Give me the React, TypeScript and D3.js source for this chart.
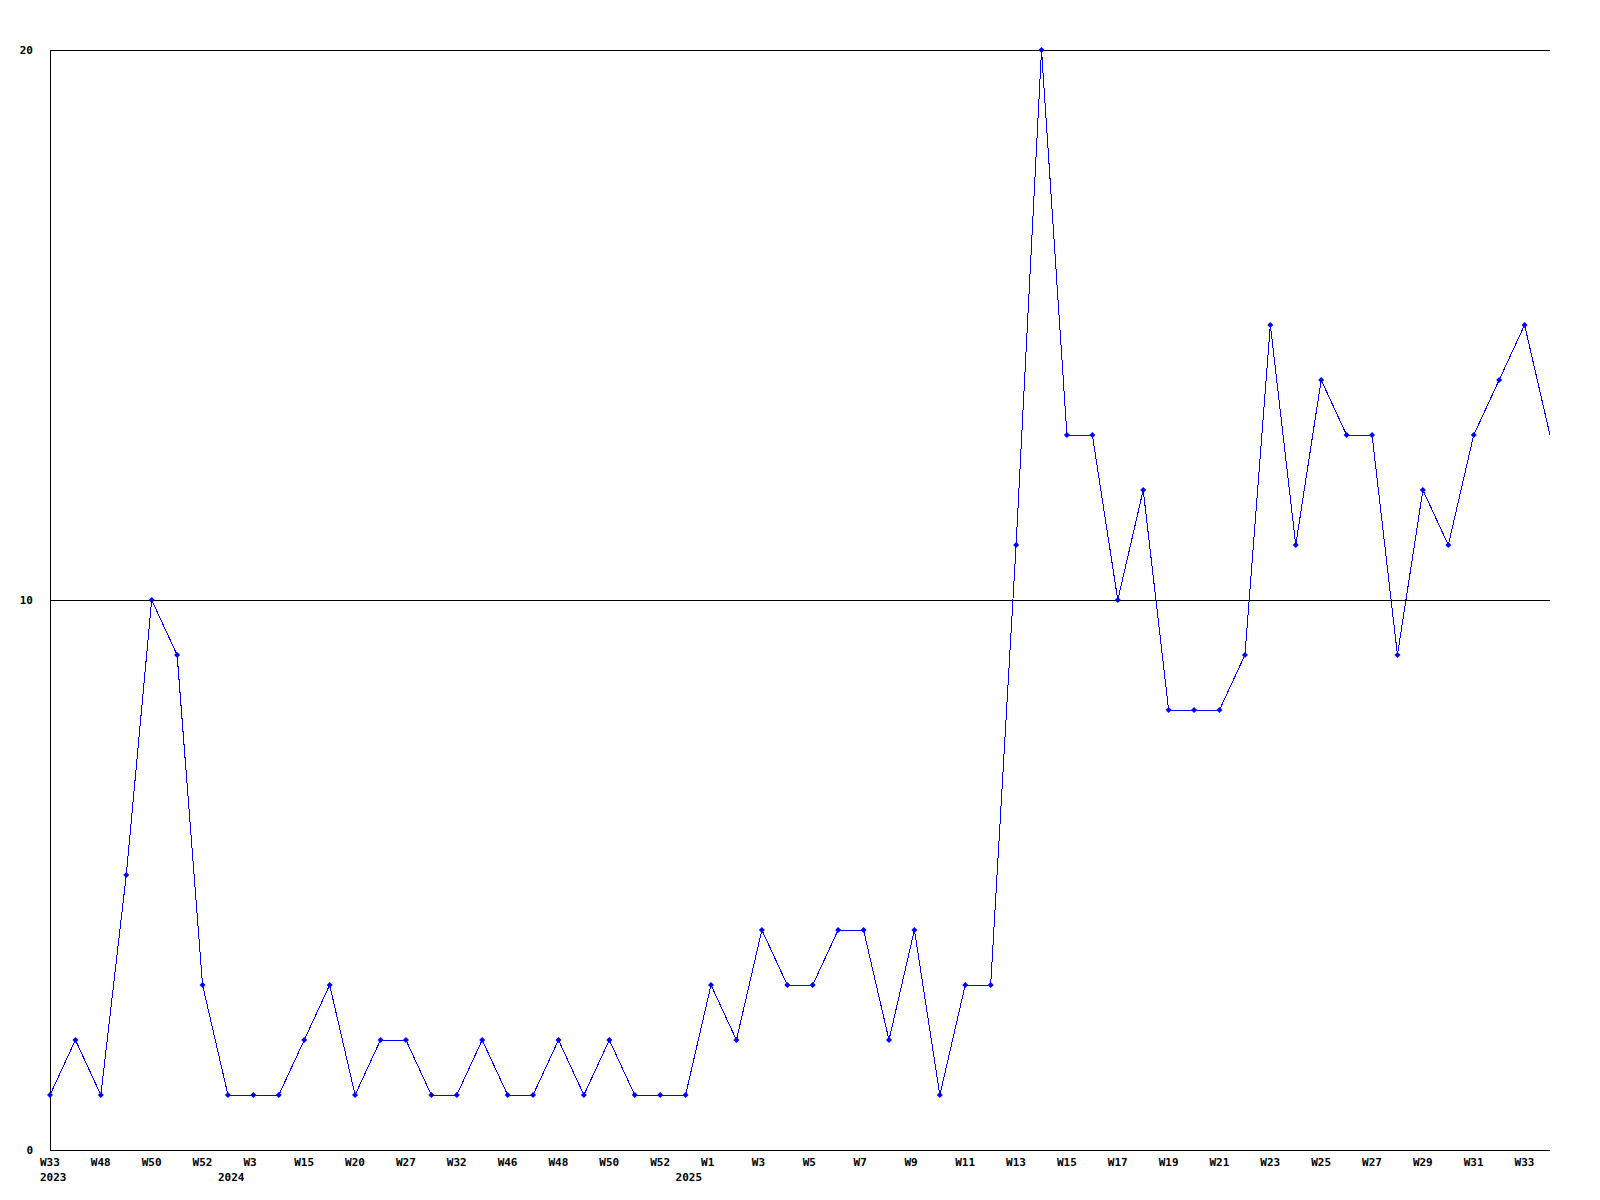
import React from "react";
import * as d3 from "d3";

const weekLabels: string[] = [
  "W33", "", "W48", "", "W50", "", "W52", "", "W3", "", "W15", "", "W20", "", "W27", "",
  "W32", "", "W46", "", "W48", "", "W50", "", "W52", "", "W1", "", "W3", "", "W5", "",
  "W7", "", "W9", "", "W11", "", "W13", "", "W15", "", "W17", "", "W19", "", "W21", "",
  "W23", "", "W25", "", "W27", "", "W29", "", "W31", "", "W33", "",
];

const yearLabels: { index: number; label: string }[] = [
  { index: 0, label: "2023" },
  { index: 7, label: "2024" },
  { index: 25, label: "2025" },
];

const values: number[] = [
  1, 2, 1, 5, 10, 9, 3, 1, 1, 1, 2, 3, 1, 2, 2, 1, 1, 2, 1, 1, 2, 1, 2, 1, 1, 1,
  3, 2, 4, 3, 3, 4, 4, 2, 4, 1, 3, 3, 11, 20, 13, 13, 10, 12, 8, 8, 8, 9, 15, 11,
  14, 13, 13, 9, 12, 11, 13, 14, 15, 13,
];

const yTicks: number[] = [0, 10, 20];

export default function App() {
  const W = 1600;
  const H = 1200;
  const left = 50;
  const right = 1550;
  const top = 50;
  const bottom = 1150;

  const x = d3.scaleLinear().domain([0, values.length - 1]).range([left, right]);
  const y = d3.scaleLinear().domain([0, 20]).range([bottom, top]);

  const line = d3
    .line<number>()
    .x((_, i) => x(i))
    .y((d) => y(d));

  const font = "'DejaVu Sans Mono', monospace";

  return (
    <div style={{ position: "absolute", left: 0, top: 0 }}>
      <svg width={W} height={H} style={{ display: "block", background: "#fff" }}>
        <rect x={0} y={0} width={W} height={H} fill="#fff" />
        {yTicks.map((t) => (
          <g key={t}>
            {t > 0 && (
              <line
                x1={left}
                x2={right}
                y1={y(t) + 0.5}
                y2={y(t) + 0.5}
                stroke="#000"
                strokeWidth={1}
                shapeRendering="crispEdges"
              />
            )}
            <text
              x={33}
              y={y(t) + 4}
              textAnchor="end"
              fontFamily={font}
              fontWeight="bold"
              fontSize={11}
              fill="#000"
            >
              {t}
            </text>
          </g>
        ))}
        <line x1={left + 0.5} x2={left + 0.5} y1={top} y2={bottom + 0.5} stroke="#000" shapeRendering="crispEdges" />
        <line x1={left} x2={right} y1={bottom + 0.5} y2={bottom + 0.5} stroke="#000" shapeRendering="crispEdges" />
        <path d={line(values) || ""} fill="none" stroke="#0000ff" strokeWidth={1} shapeRendering="crispEdges" />
        {values.slice(0, values.length - 1).map((v, i) => {
          const cx = x(i);
          const cy = y(v);
          const r = 3;
          return (
            <path
              key={i}
              d={`M${cx},${cy - r}L${cx + r},${cy}L${cx},${cy + r}L${cx - r},${cy}Z`}
              fill="#0000ff"
            />
          );
        })}
        {weekLabels.map((lab, i) =>
          lab ? (
            <text
              key={i}
              x={x(i) - 10}
              y={1166}
              fontFamily={font}
              fontWeight="bold"
              fontSize={11}
              fill="#000"
            >
              {lab}
            </text>
          ) : null
        )}
        {yearLabels.map((yl) => (
          <text
            key={yl.label}
            x={x(yl.index) - 10}
            y={1181}
            fontFamily={font}
            fontWeight="bold"
            fontSize={11}
            fill="#000"
          >
            {yl.label}
          </text>
        ))}
      </svg>
    </div>
  );
}
